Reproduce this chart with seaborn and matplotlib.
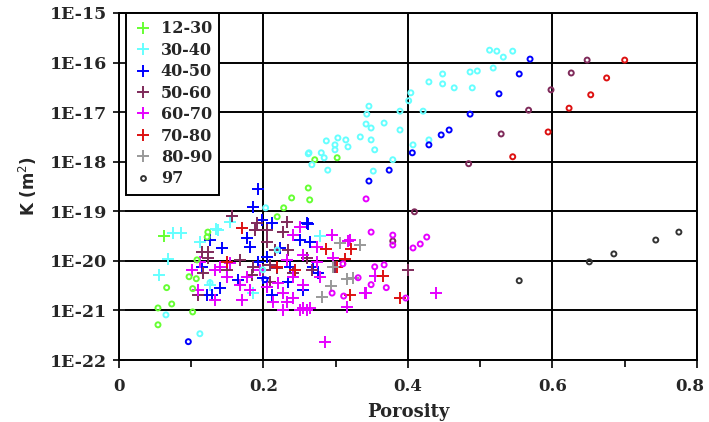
import numpy as np
import pandas as pd
import matplotlib
matplotlib.use("Agg")
import matplotlib.pyplot as plt
import matplotlib.transforms as mtransforms
import seaborn as sns
from matplotlib.lines import Line2D
from matplotlib.ticker import NullLocator, FixedLocator

# ---------------- data (porosity, log10 K [m^2]) ----------------
groups = ["12-30", "30-40", "40-50", "50-60", "60-70", "70-80", "80-90", "97"]
colors = ["#66ff33", "#66ffff", "#0000ff", "#7f2a5a", "#e600ff", "#dd1111", "#999999", "#333333"]

plus_por_12_30 = [0.062]
plus_logk_12_30 = [-19.50]
circ_por_12_30 = [0.262, 0.239, 0.264, 0.228, 0.219, 0.271, 0.302, 0.123, 0.122, 0.108,
                  0.097, 0.107, 0.066, 0.102, 0.073, 0.054, 0.102, 0.054]
circ_logk_12_30 = [-18.53, -18.73, -18.77, -18.93, -19.11, -17.96, -17.92, -19.42, -19.52, -19.98,
                   -20.32, -20.36, -20.54, -20.56, -20.87, -20.95, -21.03, -21.29]

plus_por_30_40 = [0.075, 0.086, 0.068, 0.055, 0.154, 0.137, 0.112, 0.185, 0.126, 0.134, 0.278]
plus_logk_30_40 = [-19.44, -19.44, -19.96, -20.28, -19.21, -19.38, -19.62, -20.65, -20.48, -19.35, -19.50]
circ_por_30_40 = [0.513, 0.523, 0.532, 0.545, 0.518, 0.496, 0.486, 0.448, 0.429, 0.448,
                  0.464, 0.489, 0.404, 0.401, 0.346, 0.343, 0.389, 0.421, 0.342, 0.367,
                  0.349, 0.389, 0.334, 0.349, 0.354, 0.303, 0.314, 0.299, 0.317, 0.287,
                  0.299, 0.280, 0.262, 0.284, 0.267, 0.289, 0.352, 0.379, 0.407, 0.429,
                  0.203, 0.199, 0.126, 0.219, 0.065, 0.112, 0.263]
circ_logk_30_40 = [-15.75, -15.77, -15.89, -15.77, -16.11, -16.17, -16.19, -16.23, -16.39, -16.43,
                   -16.51, -16.51, -16.61, -16.77, -16.88, -17.04, -16.98, -16.98, -17.24, -17.22,
                   -17.32, -17.36, -17.50, -17.56, -17.76, -17.52, -17.56, -17.66, -17.70, -17.58,
                   -17.76, -17.82, -17.84, -17.92, -18.06, -18.17, -18.19, -17.96, -17.66, -17.56,
                   -18.93, -20.18, -20.44, -19.78, -21.09, -21.47, -17.82]

plus_por_40_50 = [0.192, 0.185, 0.260, 0.198, 0.212, 0.126, 0.143, 0.177, 0.181, 0.251,
                  0.264, 0.223, 0.192, 0.205, 0.115, 0.237, 0.269, 0.275, 0.234, 0.255,
                  0.205, 0.212, 0.140, 0.122, 0.129, 0.199, 0.165, 0.262]
plus_logk_40_50 = [-18.55, -18.91, -19.23, -19.17, -19.23, -19.58, -19.74, -19.54, -19.72, -19.58,
                   -19.62, -19.74, -20.02, -19.92, -20.12, -20.12, -20.12, -20.24, -20.42, -20.58,
                   -20.52, -20.69, -20.54, -20.69, -20.69, -20.34, -20.38, -19.25]
circ_por_40_50 = [0.569, 0.554, 0.526, 0.486, 0.457, 0.446, 0.429, 0.406, 0.374, 0.346, 0.202, 0.096]
circ_logk_40_50 = [-15.93, -16.23, -16.63, -17.04, -17.36, -17.46, -17.66, -17.82, -18.17, -18.39, -20.38, -21.63]

plus_por_50_60 = [0.156, 0.191, 0.205, 0.233, 0.227, 0.188, 0.115, 0.123, 0.205, 0.216,
                  0.234, 0.123, 0.167, 0.185, 0.209, 0.199, 0.219, 0.260, 0.267, 0.109,
                  0.116, 0.149, 0.241, 0.209, 0.299, 0.184, 0.400]
plus_logk_50_60 = [-19.09, -19.23, -19.38, -19.21, -19.42, -19.38, -19.82, -19.82, -19.62, -19.78,
                   -19.78, -19.94, -19.98, -20.12, -20.08, -20.18, -20.14, -19.94, -20.18, -20.69,
                   -20.24, -20.18, -20.24, -20.42, -20.12, -20.28, -20.18]
circ_por_50_60 = [0.648, 0.626, 0.598, 0.567, 0.529, 0.484, 0.409, 0.379]
circ_logk_50_60 = [-15.95, -16.21, -16.55, -16.96, -17.44, -18.04, -19.01, -19.60]

plus_por_60_70 = [0.251, 0.295, 0.320, 0.241, 0.274, 0.112, 0.133, 0.149, 0.177, 0.167,
                  0.220, 0.241, 0.255, 0.227, 0.213, 0.233, 0.227, 0.241, 0.251, 0.260,
                  0.316, 0.340, 0.285, 0.133, 0.170, 0.109, 0.296, 0.233, 0.255, 0.274,
                  0.278, 0.181, 0.195, 0.205, 0.154, 0.101, 0.140, 0.439, 0.342, 0.354,
                  0.317, 0.255, 0.264]
plus_logk_60_70 = [-19.31, -19.48, -19.58, -19.48, -19.72, -20.02, -20.18, -20.32, -20.32, -20.48,
                   -20.44, -20.32, -20.48, -20.65, -20.83, -20.83, -20.99, -20.75, -20.99, -20.99,
                   -20.93, -20.65, -21.63, -20.79, -20.79, -20.58, -19.94, -19.98, -19.88, -20.02,
                   -20.32, -20.58, -20.18, -20.52, -20.04, -20.18, -20.12, -20.65, -20.65, -20.30,
                   -19.60, -20.95, -20.95]
circ_por_60_70 = [0.342, 0.349, 0.379, 0.379, 0.407, 0.417, 0.426, 0.354, 0.367, 0.331,
                  0.349, 0.370, 0.397, 0.295, 0.311, 0.310]
circ_logk_60_70 = [-18.75, -19.42, -19.48, -19.68, -19.74, -19.66, -19.52, -20.12, -20.08, -20.34,
                   -20.48, -20.54, -20.75, -20.65, -20.71, -20.06]

plus_por_70_80 = [0.170, 0.287, 0.321, 0.219, 0.244, 0.302, 0.313, 0.149, 0.320, 0.389, 0.365]
plus_logk_70_80 = [-19.33, -19.76, -19.76, -20.12, -20.18, -20.12, -19.96, -20.02, -20.69, -20.75, -20.30]
circ_por_70_80 = [0.700, 0.675, 0.653, 0.623, 0.594, 0.545]
circ_logk_70_80 = [-15.95, -16.31, -16.65, -16.92, -17.40, -17.90]

plus_por_80_90 = [0.306, 0.334, 0.316, 0.281, 0.293, 0.296, 0.324]
plus_logk_80_90 = [-19.64, -19.68, -20.36, -20.73, -20.50, -20.12, -20.34]

circ_por_97 = [0.554, 0.651, 0.685, 0.743, 0.775]
circ_logk_97 = [-20.40, -20.02, -19.86, -19.58, -19.42]

xtick_vals = [0.0, 0.2, 0.4, 0.6, 0.8]
xtick_labels = ["0", "0.2", "0.4", "0.6", "0.8"]
ytick_exps = [-22, -21, -20, -19, -18, -17, -16, -15]
ytick_labels = ["1E-22", "1E-21", "1E-20", "1E-19", "1E-18", "1E-17", "1E-16", "1E-15"]

# ---------------- tables ----------------
plus_sets = [("12-30", plus_por_12_30, plus_logk_12_30), ("30-40", plus_por_30_40, plus_logk_30_40),
             ("40-50", plus_por_40_50, plus_logk_40_50), ("50-60", plus_por_50_60, plus_logk_50_60),
             ("60-70", plus_por_60_70, plus_logk_60_70), ("70-80", plus_por_70_80, plus_logk_70_80),
             ("80-90", plus_por_80_90, plus_logk_80_90)]
circ_sets = [("12-30", circ_por_12_30, circ_logk_12_30), ("30-40", circ_por_30_40, circ_logk_30_40),
             ("40-50", circ_por_40_50, circ_logk_40_50), ("50-60", circ_por_50_60, circ_logk_50_60),
             ("60-70", circ_por_60_70, circ_logk_60_70), ("70-80", circ_por_70_80, circ_logk_70_80),
             ("97", circ_por_97, circ_logk_97)]


def build(sets):
    rows = []
    for g, xs, ks in sets:
        for x, k in zip(xs, ks):
            rows.append({"Porosity": x, "K": 10.0 ** k, "group": g})
    return pd.DataFrame(rows)


df_plus = build(plus_sets)
df_circ = build(circ_sets)
palette = dict(zip(groups, colors))

# ---------------- figure ----------------
sns.set_style("white")
plt.rcParams["font.family"] = ["DejaVu Serif"]

fig = plt.figure(figsize=(7.09, 4.22), dpi=100)
ax = fig.add_axes([0.1678, 0.1469, 0.8152, 0.8223])

sns.scatterplot(data=df_plus, x="Porosity", y="K", hue="group", palette=palette,
                marker="+", s=75, linewidth=1.4, legend=False, ax=ax, zorder=3)
sns.scatterplot(data=df_circ, x="Porosity", y="K", hue="group", palette=palette,
                marker="o", s=13, linewidth=1.4, legend=False, ax=ax, zorder=3)
coll = ax.collections[-1]
fc = coll.get_facecolors()
coll.set_edgecolors(fc)
coll.set_facecolors("none")

ax.set_yscale("log")
ax.set_xlim(0, 0.8)
ax.set_ylim(1e-22, 1e-15)
ax.set_xticks(xtick_vals)
ax.set_xticklabels(xtick_labels)
ax.xaxis.set_minor_locator(FixedLocator([0.1, 0.3, 0.5, 0.7]))
ax.set_yticks([10.0 ** e for e in ytick_exps])
ax.set_yticklabels(ytick_labels)
ax.yaxis.set_minor_locator(NullLocator())

ax.grid(True, which="major", color="black", linewidth=1.4, zorder=1)
ax.set_axisbelow(True)
for sp in ax.spines.values():
    sp.set_color("black")
    sp.set_linewidth(1.4)

ax.tick_params(axis="y", which="major", direction="inout", length=9, width=1.4,
               labelsize=12.5, pad=4, left=True)
ax.tick_params(axis="x", which="major", direction="out", length=6, width=1.4,
               labelsize=12, pad=7, bottom=True)
ax.tick_params(axis="x", which="minor", direction="out", length=5, width=1.4, bottom=True)
for lab in ax.get_xticklabels() + ax.get_yticklabels():
    lab.set_fontweight("bold")

# nudge the last x tick label so it stays inside the canvas
last = ax.xaxis.get_major_ticks()[-1].label1
last.set_transform(last.get_transform() +
                   mtransforms.ScaledTranslation(-5 / 72, 0, fig.dpi_scale_trans))

ax.set_xlabel("Porosity", fontsize=13, fontweight="bold", labelpad=6)
ax.set_ylabel("K (m$^{2}$)", fontsize=12, fontweight="bold", labelpad=8,
              family=["DejaVu Sans"])

handles = []
for g, c in zip(groups, colors):
    if g == "97":
        handles.append(Line2D([], [], linestyle="none", marker="o", markersize=3.5,
                              markerfacecolor="none", markeredgecolor=c, markeredgewidth=1.4))
    else:
        handles.append(Line2D([], [], linestyle="none", marker="+", markersize=9,
                              markeredgecolor=c, markeredgewidth=1.4))
leg = ax.legend(handles=handles, labels=groups, loc="upper left", bbox_to_anchor=(0.013, 1.0),
                frameon=True, fancybox=False, framealpha=1, edgecolor="black",
                prop={"family": "DejaVu Serif", "weight": "bold", "size": 11.5},
                labelspacing=0.28, handlelength=1.2, handletextpad=0.5, borderpad=0.45,
                borderaxespad=0.0)
leg.get_frame().set_linewidth(1.4)
leg.set_zorder(5)

fig.savefig("out.png", dpi=100)
